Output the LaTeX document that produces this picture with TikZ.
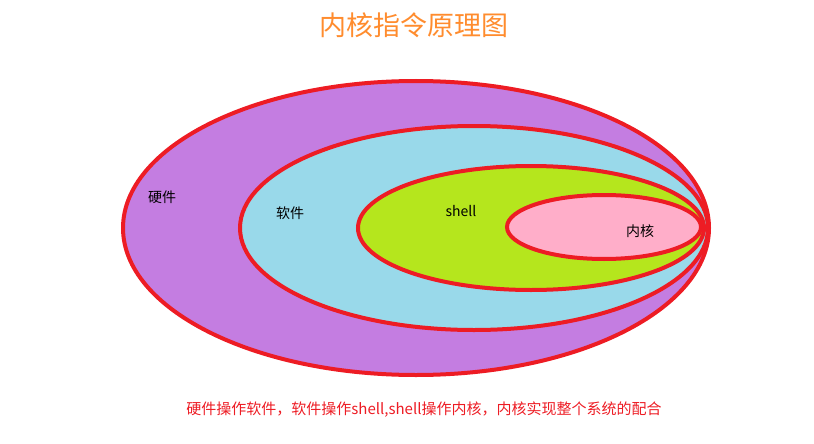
\documentclass[tikz,border=0pt]{standalone}
\usepackage{fontspec}
\setmainfont{Noto Sans CJK SC}
\definecolor{rim}{HTML}{ED1C24}
\definecolor{hw}{HTML}{C47DE1}
\definecolor{sw}{HTML}{99D9EA}
\definecolor{sh}{HTML}{B5E61D}
\definecolor{kn}{HTML}{FFAEC9}
\definecolor{ttl}{HTML}{FF8C2E}
\tikzset{layer/.style={draw=rim,line width=4pt}}
\begin{document}
\begin{tikzpicture}[x=1pt,y=-1pt]
        \useasboundingbox (0,0) rectangle (814,444);
        % Title
        \node[text=ttl,font=\fontsize{27}{30}\selectfont] (title) at (414,25) {内核指令原理图};
        % Layers
        \draw[layer,fill=hw] (416,228) ellipse (293 and 147);
        \draw[layer,fill=sw] (474,228) ellipse (234 and 102);
        \draw[layer,fill=sh] (531,228) ellipse (173 and 62);
        \draw[layer,fill=kn] (604,227) ellipse (97 and 32);
        % Labels
        \node[font=\fontsize{14}{16}\selectfont] (hard) at (162,197) {硬件};
        \node[font=\fontsize{14}{16}\selectfont] (soft) at (290,213) {软件};
        \node[font=\fontsize{14}{16}\selectfont] (shell) at (461,211) {shell};
        \node[font=\fontsize{14}{16}\selectfont] (kernel) at (640,231) {内核};
        % Caption
        \node[text=rim,font=\fontsize{15}{17}\selectfont] (caption) at (424,410) {硬件操作软件，软件操作shell,shell操作内核，内核实现整个系统的配合};
    \end{tikzpicture}
\end{document}
